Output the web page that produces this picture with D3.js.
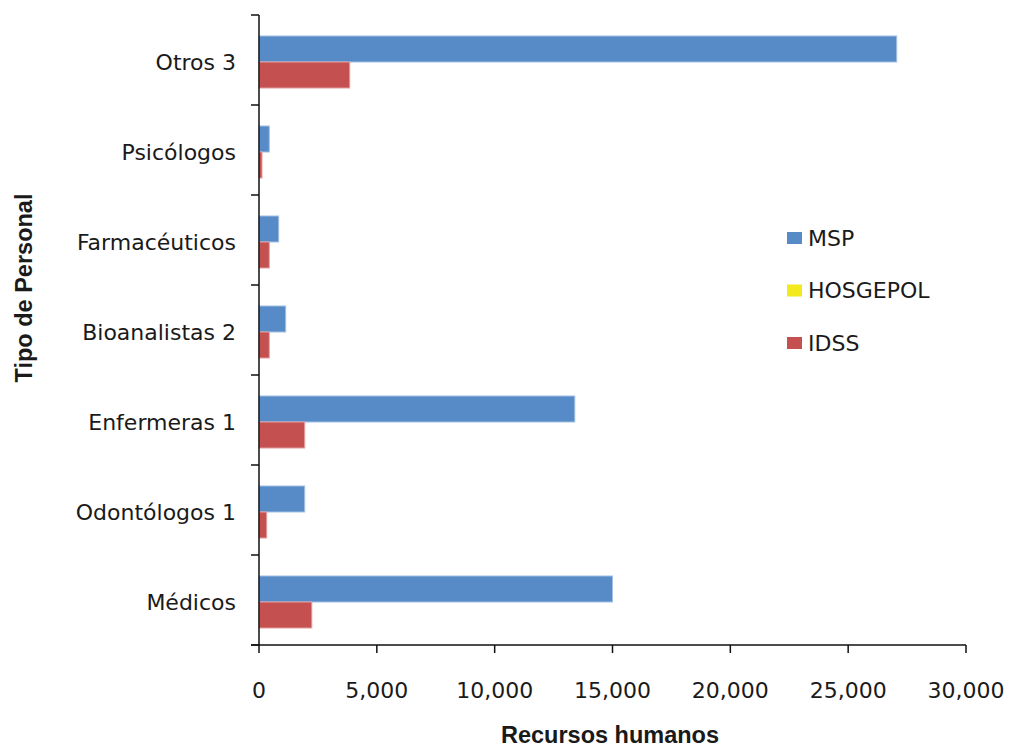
<!DOCTYPE html>
<html>
<head>
<meta charset="utf-8">
<script src="https://cdn.jsdelivr.net/npm/d3@7"></script>
<style>
  body { margin: 0; background: #fff; }
  text { fill: #1a1a1a; }
</style>
</head>
<body>
<svg id="chart" width="1012" height="748"></svg>
<script>
  // categories top to bottom
  var categories = ['Otros 3', 'Psicólogos', 'Farmacéuticos', 'Bioanalistas 2',
    'Enfermeras 1', 'Odontólogos 1', 'Médicos'];
  var seriesNames = ['MSP', 'HOSGEPOL', 'IDSS'];
  var mspValues = [27060, 437, 836, 1133, 13400, 1940, 15000];
  var hosgepolValues = [0, 0, 0, 0, 0, 0, 0];
  var idssValues = [3850, 127, 437, 437, 1940, 327, 2240];
  var xTicks = [0, 5000, 10000, 15000, 20000, 25000, 30000];
  var colors = { MSP: '#568bc8', HOSGEPOL: '#f2ea1c', IDSS: '#c4504f' };
  var borders = { MSP: '#a3c0e3', HOSGEPOL: '#f2ea1c', IDSS: '#e3a0a0' };

  var valuesBySeries = { MSP: mspValues, HOSGEPOL: hosgepolValues, IDSS: idssValues };

  var svg = d3.select('#chart');
  var plotLeft = 259, plotRight = 966, plotTop = 15, plotBottom = 645;

  var x = d3.scaleLinear().domain([0, 30000]).range([plotLeft, plotRight]);
  var y = d3.scaleBand().domain(categories).range([plotTop + 2, plotBottom + 2])
    .paddingInner(0.422).paddingOuter(0.211);
  // only series with values get a slot in the cluster
  var drawn = seriesNames.filter(function (s) { return d3.max(valuesBySeries[s]) > 0; });
  var y1 = d3.scaleBand().domain(drawn).range([0, y.bandwidth()]);

  var rows = categories.map(function (c, i) {
    return { cat: c, vals: drawn.map(function (s) { return { s: s, v: valuesBySeries[s][i] }; }) };
  });

  var groups = svg.selectAll('.row').data(rows).enter().append('g')
    .attr('class', 'row')
    .attr('transform', function (d) { return 'translate(0,' + y(d.cat) + ')'; });

  groups.selectAll('rect').data(function (d) { return d.vals; }).enter().append('rect')
    .attr('x', x(0))
    .attr('y', function (d) { return y1(d.s); })
    .attr('width', function (d) { return x(d.v) - x(0); })
    .attr('height', y1.bandwidth())
    .attr('fill', function (d) { return colors[d.s]; })
    .attr('stroke', function (d) { return borders[d.s]; })
    .attr('stroke-width', 1);

  // y axis: line with ticks on band boundaries
  var yAxis = svg.append('g');
  yAxis.append('line')
    .attr('x1', plotLeft).attr('x2', plotLeft).attr('y1', plotTop).attr('y2', plotBottom)
    .attr('stroke', '#111').attr('stroke-width', 1.5);
  var step = (plotBottom - plotTop) / categories.length;
  yAxis.selectAll('.ytick').data(d3.range(categories.length + 1)).enter().append('line')
    .attr('x1', plotLeft - 8).attr('x2', plotLeft)
    .attr('y1', function (i) { return plotTop + i * step; })
    .attr('y2', function (i) { return plotTop + i * step; })
    .attr('stroke', '#111').attr('stroke-width', 1.5);
  yAxis.selectAll('.ylab').data(categories).enter().append('text')
    .attr('x', 236)
    .attr('y', function (c) { return y(c) + y.bandwidth() / 2; })
    .attr('dy', '0.36em')
    .attr('text-anchor', 'end')
    .style('font-family', 'DejaVu Sans')
    .style('font-size', '22px')
    .text(function (c) { return c; });

  // x axis
  var xAxis = svg.append('g');
  xAxis.append('line')
    .attr('x1', plotLeft - 8).attr('x2', plotRight).attr('y1', plotBottom).attr('y2', plotBottom)
    .attr('stroke', '#111').attr('stroke-width', 1.5);
  xAxis.selectAll('.xtick').data(xTicks).enter().append('line')
    .attr('x1', function (d) { return x(d); }).attr('x2', function (d) { return x(d); })
    .attr('y1', plotBottom).attr('y2', plotBottom + 8)
    .attr('stroke', '#111').attr('stroke-width', 1.5);
  xAxis.selectAll('.xlab').data(xTicks).enter().append('text')
    .attr('x', function (d) { return x(d); })
    .attr('y', 698)
    .attr('text-anchor', 'middle')
    .style('font-family', 'DejaVu Sans')
    .style('font-size', '22px')
    .text(d3.format(','));

  // axis titles
  svg.append('text')
    .attr('x', 610).attr('y', 743)
    .attr('text-anchor', 'middle')
    .style('font-family', 'Liberation Sans')
    .style('font-weight', 'bold')
    .style('font-size', '23.5px')
    .text('Recursos humanos');
  svg.append('text')
    .attr('transform', 'translate(32,288) rotate(-90)')
    .attr('text-anchor', 'middle')
    .style('font-family', 'Liberation Sans')
    .style('font-weight', 'bold')
    .style('font-size', '23.5px')
    .text('Tipo de Personal');

  // legend
  var legend = svg.selectAll('.legend').data(seriesNames).enter().append('g')
    .attr('class', 'legend')
    .attr('transform', function (d, i) { return 'translate(787,' + (238 + i * 52.5) + ')'; });
  legend.append('rect')
    .attr('x', 0).attr('y', -6).attr('width', 15).attr('height', 12)
    .attr('fill', function (d) { return colors[d]; });
  legend.append('text')
    .attr('x', 21).attr('y', 0).attr('dy', '0.36em')
    .style('font-family', 'DejaVu Sans')
    .style('font-size', '22px')
    .text(function (d) { return d; });
</script>
</body>
</html>
